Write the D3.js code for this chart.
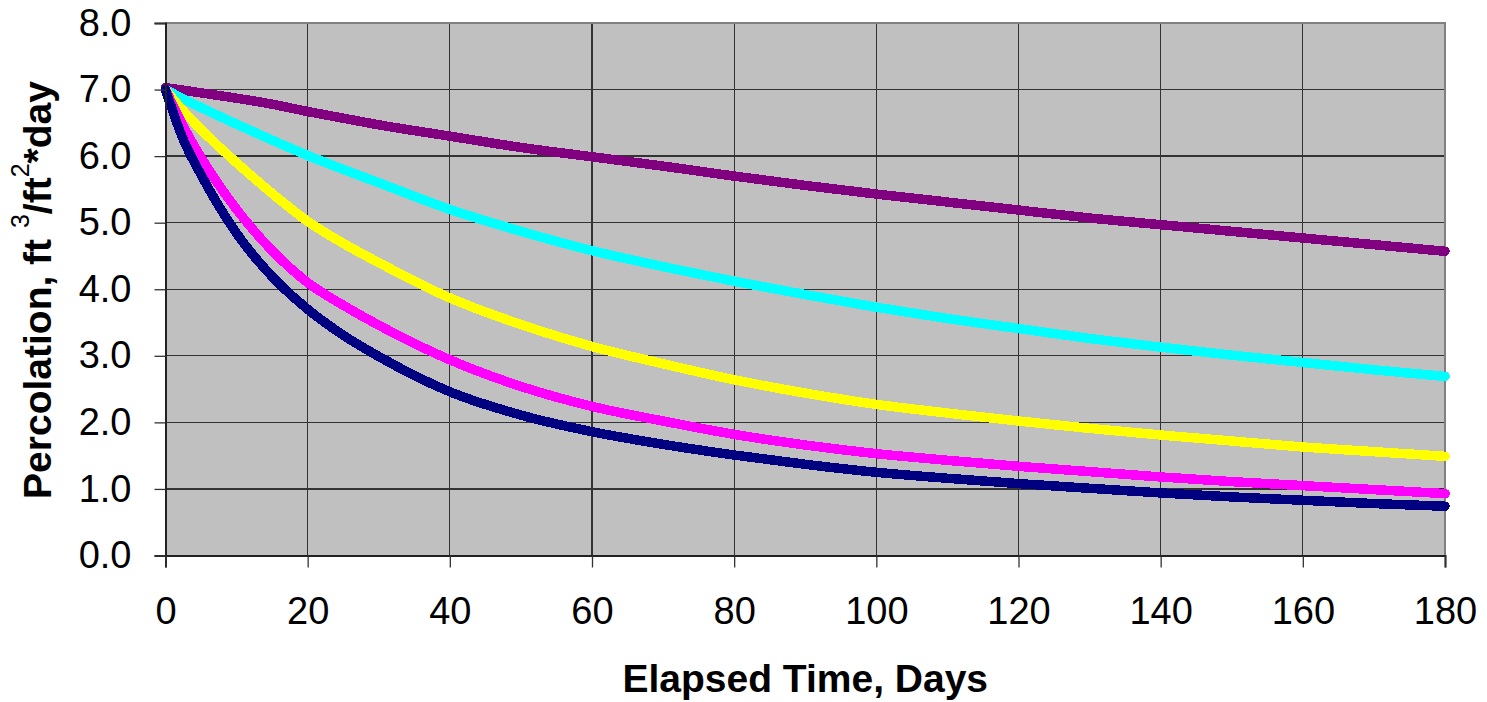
<!DOCTYPE html>
<html>
<head>
<meta charset="utf-8">
<script src="https://cdn.jsdelivr.net/npm/d3@7"></script>
<style>
  html, body { margin: 0; padding: 0; background: #ffffff; }
  svg { display: block; }
  text { font-family: "Liberation Sans", Arial, sans-serif; fill: #000; }
</style>
</head>
<body>
<svg id="chart" width="1487" height="702"></svg>
<script>
// ---- data ----
const days     = [0, 2.5, 5, 10, 15, 20, 25, 30, 40, 50, 60, 70, 80, 90, 100, 110, 120, 130, 140, 150, 160, 170, 180];
const purple   = [7.03, 6.99, 6.95, 6.87, 6.78, 6.67, 6.57, 6.47, 6.30, 6.13, 5.99, 5.85, 5.70, 5.56, 5.43, 5.31, 5.19, 5.07, 4.97, 4.87, 4.77, 4.67, 4.57];
const cyan     = [7.00, 6.86, 6.73, 6.48, 6.24, 6.01, 5.80, 5.60, 5.20, 4.87, 4.58, 4.34, 4.12, 3.92, 3.73, 3.56, 3.41, 3.26, 3.13, 3.01, 2.90, 2.79, 2.69];
const yellow   = [7.00, 6.68, 6.40, 5.90, 5.44, 5.02, 4.69, 4.40, 3.87, 3.47, 3.14, 2.88, 2.64, 2.44, 2.27, 2.14, 2.02, 1.91, 1.81, 1.72, 1.63, 1.56, 1.49];
const magenta  = [7.00, 6.45, 5.98, 5.20, 4.58, 4.10, 3.76, 3.46, 2.94, 2.54, 2.24, 2.02, 1.82, 1.66, 1.53, 1.43, 1.34, 1.26, 1.18, 1.11, 1.05, 0.99, 0.93];
const navy     = [7.00, 6.25, 5.72, 4.84, 4.19, 3.70, 3.31, 2.99, 2.46, 2.11, 1.86, 1.67, 1.51, 1.37, 1.25, 1.16, 1.08, 1.01, 0.94, 0.88, 0.83, 0.78, 0.74];
const seriesNames  = ["purple", "cyan", "yellow", "magenta", "navy"];
const seriesValues = [purple, cyan, yellow, magenta, navy];
const seriesColors = ["#800080", "#00ffff", "#ffff00", "#ff00ff", "#000080"];
const xTicks = [0, 20, 40, 60, 80, 100, 120, 140, 160, 180];
const yTicks = [0, 1, 2, 3, 4, 5, 6, 7, 8];

(function () {
// ---- layout ----
const svg = d3.select("#chart");
const pl = 165.5, pr = 1445, pt = 23, pb = 555.5;
const x = d3.scaleLinear().domain([0, 180]).range([pl, pr]);
const y = d3.scaleLinear().domain([0, 8]).range([pb, pt]);

// plot background
svg.append("rect")
  .attr("x", pl).attr("y", pt)
  .attr("width", pr - pl).attr("height", pb - pt)
  .attr("fill", "#c0c0c0");

// grid
const grid = svg.append("g").attr("shape-rendering", "crispEdges");
grid.selectAll("line.h").data(yTicks.filter(d => d > 0 && d < 8)).join("line")
  .attr("x1", pl).attr("x2", pr)
  .attr("y1", d => y(d)).attr("y2", d => y(d))
  .attr("stroke", "#333").attr("stroke-width", 1.3);
grid.selectAll("line.v").data(xTicks.filter(d => d > 0 && d < 180)).join("line")
  .attr("y1", pt).attr("y2", pb)
  .attr("x1", d => x(d)).attr("x2", d => x(d))
  .attr("stroke", "#333").attr("stroke-width", 1.3);

// plot border (gray)
svg.append("rect")
  .attr("x", pl).attr("y", pt)
  .attr("width", pr - pl).attr("height", pb - pt)
  .attr("fill", "none").attr("stroke", "#808080").attr("stroke-width", 2)
  .attr("shape-rendering", "crispEdges");

// series lines
const line = d3.line()
  .x((d, i) => x(days[i]))
  .y(d => y(d))
  .curve(d3.curveMonotoneX);
svg.append("g").selectAll("path").data(seriesValues).join("path")
  .attr("d", d => line(d))
  .attr("fill", "none")
  .attr("stroke", (d, i) => seriesColors[i])
  .attr("stroke-width", 9.5)
  .attr("stroke-linecap", "round")
  .attr("stroke-linejoin", "round")
  .attr("shape-rendering", "crispEdges");

// axes
const yAxis = d3.axisLeft(y).tickValues(yTicks).tickSize(11).tickPadding(23)
  .tickFormat(d3.format(".1f"));
const gy = svg.append("g").attr("transform", `translate(${pl},0)`).call(yAxis);
gy.select(".domain").attr("stroke", "#222").attr("stroke-width", 2);
gy.selectAll(".tick line").attr("stroke", "#333").attr("stroke-width", 1.3);
gy.selectAll(".tick text").attr("font-size", 38)
  .attr("font-family", "'Liberation Sans', Arial, sans-serif").attr("fill", "#000");

const xAxis = d3.axisBottom(x).tickValues(xTicks).tickSize(12).tickPadding(30)
  .tickFormat(d3.format("d"));
const gx = svg.append("g").attr("transform", `translate(0,${pb})`).call(xAxis);
gx.select(".domain").attr("stroke", "#222").attr("stroke-width", 2);
gx.selectAll(".tick line").attr("stroke", "#333").attr("stroke-width", 1.3);
gx.selectAll(".tick text").attr("font-size", 38)
  .attr("font-family", "'Liberation Sans', Arial, sans-serif").attr("fill", "#000");

// axis titles
svg.append("text")
  .attr("x", (pl + pr) / 2).attr("y", 692)
  .attr("text-anchor", "middle")
  .attr("font-size", 39).attr("font-weight", "bold")
  .text("Elapsed Time, Days");

const yt = svg.append("text")
  .attr("transform", "translate(51,290) rotate(-90)")
  .attr("text-anchor", "middle")
  .attr("font-size", 39).attr("font-weight", "bold");
yt.append("tspan").text("Percolation, ft   ");
yt.append("tspan").attr("font-size", 25).attr("font-weight", "normal").attr("dy", -22).text("3");
yt.append("tspan").attr("dy", 22).text("/ft");
yt.append("tspan").attr("font-size", 25).attr("font-weight", "normal").attr("dy", -22).text("2");
yt.append("tspan").attr("dy", 22).text("*day");
})();
</script>
</body>
</html>
